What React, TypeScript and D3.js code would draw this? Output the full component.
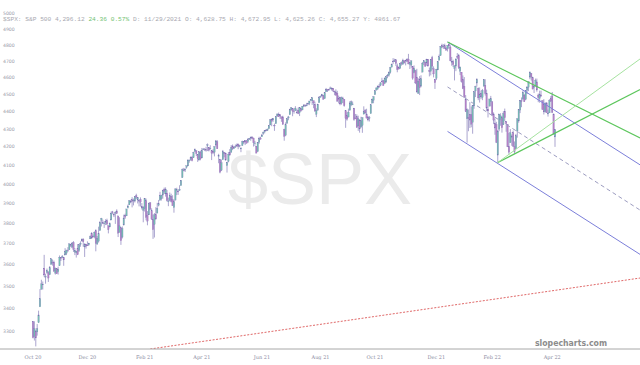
import React from 'react';
import * as d3 from 'd3';

// daily S&P 500 bars, Oct 28 2020 .. Apr 25 2022: [open, high, low, close]
const ohlc: [number, number, number, number][] = [
  [3342, 3342, 3268, 3271], [3277, 3342, 3259, 3310], [3297, 3305, 3234, 3270],
  [3296, 3330, 3280, 3310], [3336, 3389, 3336, 3370], [3406, 3486, 3405, 3443], [3485, 3529, 3485, 3510], [3508, 3521, 3484, 3509],
  [3583, 3646, 3543, 3551], [3544, 3557, 3511, 3545], [3563, 3581, 3557, 3572], [3562, 3569, 3519, 3537], [3552, 3593, 3552, 3585],
  [3600, 3628, 3600, 3627], [3611, 3624, 3595, 3610], [3612, 3619, 3567, 3568], [3560, 3586, 3553, 3582], [3580, 3582, 3556, 3557],
  [3566, 3590, 3553, 3578], [3594, 3643, 3594, 3635], [3635, 3635, 3617, 3629], [3638, 3645, 3630, 3638], [3634, 3634, 3594, 3622],
  [3645, 3678, 3645, 3662], [3654, 3670, 3645, 3669], [3669, 3683, 3660, 3666], [3670, 3699, 3670, 3699],
  [3694, 3698, 3684, 3692], [3683, 3708, 3678, 3702], [3705, 3712, 3660, 3673], [3659, 3678, 3645, 3668], [3656, 3665, 3633, 3663],
  [3675, 3698, 3645, 3647], [3666, 3695, 3660, 3695], [3696, 3711, 3685, 3702], [3713, 3725, 3710, 3722], [3722, 3726, 3685, 3709],
  [3684, 3702, 3636, 3694], [3698, 3698, 3676, 3687], [3693, 3711, 3689, 3690], [3694, 3703, 3690, 3703],
  [3723, 3740, 3723, 3735], [3751, 3756, 3723, 3727], [3736, 3744, 3730, 3732], [3733, 3760, 3726, 3756],
  [3764, 3770, 3663, 3701], [3698, 3737, 3695, 3726], [3712, 3783, 3705, 3748], [3764, 3811, 3764, 3804], [3815, 3827, 3784, 3825],
  [3803, 3818, 3796, 3799], [3801, 3810, 3777, 3801], [3802, 3820, 3791, 3810], [3814, 3823, 3793, 3795], [3788, 3788, 3750, 3768],
  [3782, 3804, 3780, 3798], [3816, 3859, 3816, 3851], [3857, 3862, 3845, 3853], [3845, 3852, 3831, 3841],
  [3852, 3860, 3797, 3855], [3862, 3870, 3847, 3849], [3837, 3837, 3732, 3751], [3755, 3830, 3755, 3787], [3778, 3778, 3694, 3714],
  [3732, 3784, 3725, 3774], [3791, 3843, 3791, 3826], [3840, 3848, 3822, 3830], [3837, 3872, 3836, 3872], [3878, 3894, 3874, 3887],
  [3893, 3916, 3892, 3915], [3910, 3919, 3902, 3911], [3920, 3932, 3880, 3910], [3916, 3925, 3890, 3917], [3912, 3937, 3905, 3934],
  [3940, 3950, 3923, 3933], [3918, 3933, 3900, 3931], [3916, 3916, 3885, 3914], [3921, 3931, 3884, 3907],
  [3885, 3902, 3869, 3877], [3865, 3886, 3805, 3881], [3873, 3928, 3859, 3925], [3915, 3925, 3815, 3829], [3839, 3861, 3790, 3811],
  [3842, 3904, 3842, 3901], [3903, 3906, 3869, 3870], [3863, 3875, 3818, 3820], [3819, 3844, 3723, 3768], [3794, 3851, 3730, 3842],
  [3844, 3881, 3819, 3821], [3851, 3903, 3851, 3875], [3891, 3918, 3885, 3898], [3916, 3960, 3916, 3939], [3924, 3944, 3915, 3943],
  [3943, 3970, 3924, 3969], [3974, 3982, 3949, 3963], [3949, 3983, 3935, 3974], [3953, 3969, 3910, 3915], [3913, 3930, 3886, 3913],
  [3916, 3956, 3911, 3941], [3937, 3950, 3905, 3910], [3920, 3942, 3889, 3889], [3879, 3919, 3853, 3909], [3917, 3978, 3917, 3975],
  [3970, 3981, 3943, 3971], [3964, 3969, 3944, 3959], [3967, 3994, 3965, 3973], [3992, 4021, 3992, 4020],
  [4034, 4083, 4034, 4078], [4075, 4086, 4068, 4074], [4074, 4084, 4064, 4080], [4089, 4098, 4082, 4097], [4096, 4129, 4096, 4129],
  [4124, 4131, 4114, 4128], [4131, 4148, 4124, 4142], [4141, 4151, 4121, 4125], [4140, 4173, 4140, 4170], [4175, 4191, 4171, 4185],
  [4179, 4180, 4150, 4163], [4159, 4160, 4118, 4135], [4128, 4175, 4126, 4173], [4171, 4179, 4127, 4135], [4139, 4194, 4139, 4180],
  [4185, 4194, 4182, 4188], [4188, 4193, 4177, 4187], [4185, 4201, 4174, 4183], [4206, 4219, 4177, 4211], [4198, 4199, 4175, 4181],
  [4191, 4209, 4188, 4192], [4179, 4180, 4128, 4165], [4177, 4187, 4160, 4168], [4170, 4202, 4148, 4202], [4210, 4238, 4202, 4233],
  [4228, 4237, 4189, 4189], [4150, 4162, 4111, 4152], [4131, 4134, 4057, 4063], [4074, 4131, 4069, 4113], [4130, 4183, 4130, 4174],
  [4169, 4172, 4143, 4163], [4165, 4169, 4125, 4128], [4098, 4118, 4061, 4116], [4121, 4172, 4116, 4160], [4168, 4188, 4151, 4156],
  [4170, 4210, 4170, 4197], [4205, 4213, 4182, 4189], [4191, 4202, 4188, 4196], [4201, 4213, 4197, 4201], [4210, 4218, 4203, 4204],
  [4216, 4218, 4187, 4202], [4206, 4212, 4198, 4208], [4191, 4198, 4171, 4193], [4207, 4234, 4207, 4230],
  [4229, 4232, 4216, 4227], [4234, 4236, 4210, 4227], [4233, 4238, 4219, 4220], [4229, 4249, 4221, 4239], [4243, 4249, 4238, 4247],
  [4248, 4255, 4234, 4255], [4255, 4258, 4243, 4247], [4249, 4251, 4202, 4224], [4220, 4233, 4205, 4222], [4204, 4205, 4165, 4166],
  [4174, 4226, 4174, 4224], [4225, 4256, 4217, 4246], [4249, 4256, 4241, 4242], [4256, 4272, 4255, 4266], [4274, 4286, 4267, 4281],
  [4284, 4292, 4275, 4291], [4293, 4300, 4287, 4291], [4291, 4302, 4288, 4298], [4301, 4320, 4300, 4320], [4322, 4355, 4322, 4352],
  [4356, 4358, 4315, 4344], [4351, 4362, 4340, 4358], [4321, 4330, 4289, 4320], [4329, 4372, 4329, 4369],
  [4373, 4387, 4369, 4385], [4381, 4393, 4368, 4369], [4381, 4382, 4357, 4374], [4369, 4369, 4340, 4360], [4368, 4375, 4322, 4327],
  [4297, 4301, 4234, 4258], [4265, 4337, 4259, 4323], [4331, 4359, 4330, 4359], [4362, 4374, 4349, 4368], [4381, 4415, 4381, 4412],
  [4409, 4422, 4405, 4422], [4416, 4416, 4372, 4401], [4402, 4416, 4387, 4400], [4404, 4430, 4403, 4419], [4395, 4412, 4389, 4395],
  [4406, 4422, 4384, 4387], [4392, 4424, 4373, 4423], [4416, 4416, 4398, 4403], [4408, 4430, 4407, 4430], [4429, 4441, 4425, 4437],
  [4437, 4440, 4425, 4432], [4436, 4449, 4430, 4436], [4442, 4449, 4436, 4448], [4447, 4461, 4436, 4460], [4464, 4468, 4461, 4468],
  [4461, 4480, 4437, 4480], [4462, 4462, 4418, 4449], [4441, 4456, 4400, 4401], [4383, 4418, 4367, 4406], [4406, 4444, 4406, 4442],
  [4450, 4489, 4450, 4480], [4484, 4492, 4482, 4486], [4490, 4502, 4486, 4497], [4493, 4496, 4469, 4470], [4474, 4513, 4474, 4509],
  [4514, 4537, 4513, 4529], [4529, 4531, 4513, 4523], [4529, 4532, 4522, 4524], [4534, 4545, 4529, 4537], [4532, 4541, 4521, 4535],
  [4536, 4536, 4513, 4521], [4518, 4521, 4494, 4514], [4513, 4529, 4493, 4493], [4506, 4520, 4457, 4459],
  [4474, 4492, 4446, 4469], [4479, 4485, 4435, 4443], [4447, 4486, 4439, 4481], [4477, 4485, 4448, 4474], [4470, 4471, 4427, 4433],
  [4403, 4403, 4306, 4358], [4375, 4394, 4347, 4355], [4367, 4416, 4367, 4396], [4406, 4459, 4406, 4449], [4438, 4463, 4430, 4455],
  [4443, 4457, 4436, 4443], [4419, 4419, 4346, 4353], [4362, 4385, 4355, 4360], [4370, 4383, 4307, 4308], [4317, 4375, 4289, 4357],
  [4348, 4356, 4279, 4300], [4309, 4369, 4309, 4346], [4319, 4365, 4278, 4364], [4384, 4429, 4384, 4399], [4406, 4413, 4385, 4391],
  [4385, 4415, 4361, 4361], [4368, 4374, 4343, 4351], [4358, 4373, 4342, 4364], [4387, 4439, 4387, 4438], [4447, 4475, 4447, 4471],
  [4464, 4487, 4447, 4486], [4497, 4520, 4497, 4520], [4524, 4540, 4524, 4537], [4532, 4550, 4525, 4549], [4547, 4560, 4538, 4545],
  [4553, 4572, 4547, 4567], [4578, 4598, 4569, 4575], [4580, 4585, 4551, 4551], [4563, 4598, 4563, 4597], [4573, 4608, 4567, 4605],
  [4610, 4621, 4595, 4614], [4613, 4636, 4604, 4631], [4630, 4664, 4623, 4660], [4662, 4684, 4663, 4680], [4699, 4718, 4681, 4697],
  [4701, 4714, 4694, 4702], [4707, 4708, 4670, 4685], [4670, 4684, 4631, 4647], [4660, 4666, 4650, 4650], [4656, 4688, 4651, 4683],
  [4689, 4697, 4672, 4683], [4679, 4714, 4679, 4701], [4701, 4701, 4684, 4689], [4700, 4708, 4673, 4705], [4708, 4717, 4694, 4698],
  [4712, 4744, 4680, 4682], [4679, 4692, 4651, 4690], [4675, 4702, 4659, 4701], [4665, 4665, 4586, 4595],
  [4629, 4673, 4625, 4655], [4640, 4646, 4560, 4567], [4602, 4652, 4510, 4513], [4504, 4595, 4504, 4577], [4589, 4608, 4495, 4538],
  [4548, 4613, 4541, 4592], [4632, 4694, 4632, 4687], [4690, 4705, 4675, 4701], [4691, 4695, 4665, 4668], [4688, 4713, 4671, 4712],
  [4711, 4711, 4667, 4669], [4642, 4660, 4606, 4635], [4637, 4712, 4612, 4710], [4720, 4732, 4647, 4669], [4652, 4667, 4600, 4621],
  [4587, 4590, 4531, 4568], [4594, 4652, 4584, 4650], [4645, 4697, 4645, 4697], [4704, 4740, 4704, 4726],
  [4733, 4792, 4733, 4791], [4796, 4808, 4781, 4786], [4789, 4805, 4775, 4793], [4795, 4808, 4776, 4778], [4776, 4787, 4766, 4766],
  [4778, 4797, 4759, 4797], [4804, 4819, 4774, 4794], [4787, 4798, 4699, 4701], [4693, 4725, 4671, 4696], [4698, 4708, 4663, 4677],
  [4655, 4673, 4582, 4670], [4669, 4714, 4638, 4713], [4728, 4749, 4712, 4726], [4734, 4744, 4651, 4660], [4637, 4666, 4614, 4663],
  [4632, 4632, 4569, 4577], [4589, 4612, 4530, 4533], [4547, 4602, 4477, 4483], [4471, 4495, 4396, 4398],
  [4357, 4417, 4223, 4410], [4366, 4411, 4287, 4357], [4380, 4453, 4305, 4350], [4381, 4428, 4309, 4327], [4337, 4433, 4273, 4432],
  [4431, 4516, 4415, 4516], [4519, 4550, 4483, 4546], [4566, 4595, 4545, 4589], [4535, 4540, 4465, 4478], [4482, 4540, 4451, 4501],
  [4506, 4521, 4471, 4484], [4480, 4531, 4465, 4522], [4547, 4590, 4547, 4587], [4553, 4589, 4492, 4504], [4506, 4527, 4402, 4419],
  [4413, 4427, 4365, 4402], [4430, 4472, 4430, 4472], [4456, 4490, 4429, 4475], [4456, 4456, 4373, 4380], [4385, 4394, 4327, 4349],
  [4333, 4359, 4267, 4305], [4324, 4340, 4221, 4226], [4155, 4294, 4115, 4288], [4298, 4385, 4287, 4385],
  [4354, 4389, 4318, 4374], [4364, 4375, 4279, 4306], [4323, 4401, 4323, 4387], [4401, 4416, 4345, 4363], [4343, 4343, 4284, 4329],
  [4327, 4327, 4199, 4201], [4203, 4277, 4157, 4171], [4223, 4299, 4223, 4278], [4253, 4269, 4206, 4260], [4280, 4291, 4200, 4204],
  [4203, 4230, 4162, 4173], [4189, 4272, 4188, 4262], [4288, 4358, 4251, 4358], [4345, 4412, 4335, 4412], [4407, 4465, 4390, 4463],
  [4462, 4481, 4424, 4461], [4470, 4522, 4469, 4512], [4494, 4501, 4455, 4456], [4470, 4520, 4465, 4520], [4523, 4546, 4501, 4543],
  [4541, 4576, 4518, 4575], [4602, 4637, 4589, 4632], [4624, 4627, 4581, 4602], [4599, 4604, 4531, 4530], [4540, 4549, 4507, 4546],
  [4548, 4593, 4546, 4583], [4573, 4593, 4515, 4525], [4495, 4504, 4453, 4481], [4475, 4521, 4450, 4500], [4495, 4521, 4487, 4488],
  [4462, 4464, 4408, 4413], [4438, 4471, 4382, 4397], [4398, 4453, 4392, 4446], [4449, 4453, 4392, 4392],
  [4385, 4410, 4370, 4391], [4391, 4471, 4391, 4463], [4473, 4489, 4455, 4459], [4490, 4513, 4390, 4394], [4385, 4386, 4268, 4272],
  [4255, 4299, 4200, 4296],
];

const yTickValues = [3300, 3400, 3500, 3600, 3700, 3800, 3900, 4000, 4100, 4200, 4300, 4400, 4500, 4600, 4700, 4800, 4900, 5000];
const xTickBars = [0, 39, 80, 121, 164, 206, 245, 289, 329, 372];
const xTickLabels = ['Oct 20', 'Dec 20', 'Feb 21', 'Apr 21', 'Jun 21', 'Aug 21', 'Oct 21', 'Dec 21', 'Feb 22', 'Apr 22'];

// drawn trendlines: [bar, price] -> [bar, price]
const trendLines = [
  { from: [297, 4819], to: [435, 4102], color: '#7c7fda', width: 1, dash: '' },
  { from: [297, 4286], to: [435, 3648], color: '#7c7fda', width: 1, dash: '' },
  { from: [297, 4543], to: [435, 3866], color: '#9c9cc0', width: 1, dash: '4,3' },
  { from: [297, 4819], to: [435, 4249], color: '#5cc65c', width: 1.2, dash: '' },
  { from: [333, 4115], to: [435, 4528], color: '#5cc65c', width: 1.2, dash: '' },
  { from: [333, 4115], to: [435, 4713], color: '#a6e3a0', width: 1, dash: '' },
  { from: [84, 3223], to: [435, 3537], color: '#e06868', width: 1, dash: '2,1.5' },
];

const W = 640;
const H = 365;
const plotBottom = 349;

export default function App() {
  const x = d3.scaleLinear().domain([0, ohlc.length - 1]).range([33, 555]);
  const y = d3.scaleLog().domain([3223, 5091]).range([plotBottom, 0]);
  const bodyW = 1.4;

  return (
    <svg width={W} height={H} style={{ position: 'absolute', left: 0, top: 0, background: '#fff' }}>
      <defs>
        <clipPath id="plot">
          <rect x={0} y={0} width={W} height={plotBottom} />
        </clipPath>
      </defs>

      {/* watermark */}
      <text x={320} y={204} textAnchor="middle" fontFamily="Liberation Sans, Arial, sans-serif"
        fontSize={72} fill="#ebebeb">$SPX</text>

      {/* y labels */}
      {yTickValues.map(v => (
        <text key={v} x={3} y={y(v)} dy="0.35em" fontSize={4.6} fontFamily="DejaVu Sans, sans-serif" fill="#9a9aaa">{v}</text>
      ))}

      {/* header */}
      <text x={3} y={20.5} fontFamily="Liberation Mono, monospace" fontSize={6.2} fill="#a8a8b0">
        $SPX: S&amp;P 500 4,296.12 <tspan fill="#72c272">24.36 0.57%</tspan> D: 11/29/2021 O: 4,628.75 H: 4,672.95 L: 4,625.26 C: 4,655.27 Y: 4861.67
      </text>

      {/* candles */}
      <g>
        {ohlc.map(([o, h, l, c], i) => {
          const up = c >= o;
          const top = y(Math.max(o, c));
          const bot = y(Math.min(o, c));
          return (
            <g key={i}>
              <line x1={x(i)} x2={x(i)} y1={y(h)} y2={y(l)} stroke="#7268ae" strokeWidth={0.6} />
              <rect x={x(i) - bodyW / 2} y={top} width={bodyW} height={Math.max(0.8, bot - top)}
                fill={up ? '#74bfb2' : '#b880c6'} stroke="#7a70b2" strokeWidth={0.25} />
            </g>
          );
        })}
      </g>

      {/* trendlines */}
      <g clipPath="url(#plot)">
        {trendLines.map((t, i) => (
          <line key={i} x1={x(t.from[0])} y1={y(t.from[1])} x2={x(t.to[0])} y2={y(t.to[1])}
            stroke={t.color} strokeWidth={t.width} strokeDasharray={t.dash || undefined} />
        ))}
      </g>

      {/* x axis */}
      <line x1={0} x2={W} y1={plotBottom} y2={plotBottom} stroke="#a8a8a8" strokeWidth={1} />
      {xTickBars.map((b, i) => (
        <text key={b} x={x(b)} y={358.5} textAnchor="middle" fontSize={5} fontFamily="DejaVu Serif, serif" fill="#8a8aa0">
          {xTickLabels[i]}
        </text>
      ))}

      <text x={607} y={346} textAnchor="end" fontFamily="DejaVu Sans, sans-serif" fontWeight="bold"
        fontSize={9} textLength={72} lengthAdjust="spacingAndGlyphs" fill="#8c8c8c">slopecharts.com</text>
    </svg>
  );
}
